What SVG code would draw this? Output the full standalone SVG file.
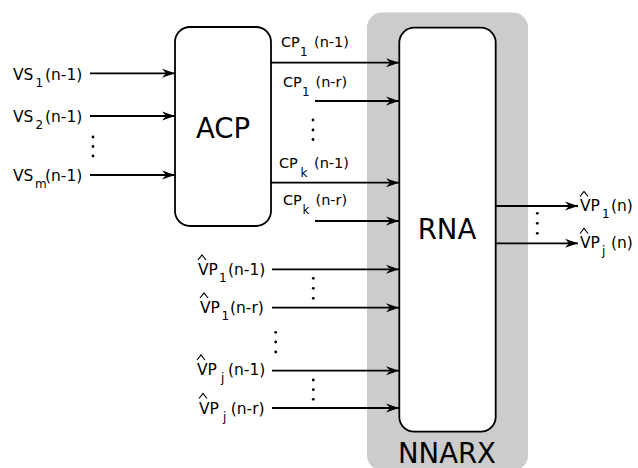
<svg xmlns="http://www.w3.org/2000/svg" width="638" height="468" viewBox="0 0 638 468">
<style>
.box{fill:#fff;stroke:#000;stroke-width:1.8}
.bg{fill:#cccccc}
.c{stroke:#000;stroke-width:1.8;fill:none;marker-end:url(#ah)}
text{font-family:"DejaVu Sans",sans-serif;fill:#000}
.lbl{font-size:15.5px}
.cp{font-size:14.5px}
.s{font-size:12px}
.big{font-size:27.5px;text-anchor:middle}
.hat{stroke:#000;stroke-width:1.2;fill:none}
.dot{fill:#000}
</style>
<defs>
<marker id="ah" markerUnits="userSpaceOnUse" markerWidth="16" markerHeight="10" viewBox="-14 -5 16 10" refX="0" refY="0" orient="auto">
<path d="M0,0 L-13,-4.5 L-9,0 L-13,4.5 Z" fill="#000"/>
</marker>
</defs>
<g id="NNARX">
<rect class="bg" x="367" y="12.5" width="161" height="458" rx="15"/>
<text class="big" x="447" y="463">NNARX</text>
</g>
<g id="ACP">
<rect class="box" x="175" y="27" width="96" height="199" rx="15"/>
<text class="big" x="223" y="137.5">ACP</text>
</g>
<g id="RNA">
<rect class="box" x="399.3" y="27.7" width="96.4" height="404" rx="15"/>
<text class="big" x="447" y="239">RNA</text>
</g>
<g id="connectors">
<line class="c" x1="90" y1="73.3" x2="175" y2="73.3"/>
<line class="c" x1="90" y1="116" x2="175" y2="116"/>
<line class="c" x1="90" y1="175" x2="175" y2="175"/>
<line class="c" x1="271" y1="62.7" x2="399" y2="62.7"/>
<line class="c" x1="315" y1="101" x2="399" y2="101"/>
<line class="c" x1="271" y1="182.7" x2="399" y2="182.7"/>
<line class="c" x1="315" y1="221" x2="399" y2="221"/>
<line class="c" x1="272" y1="269.3" x2="399" y2="269.3"/>
<line class="c" x1="272" y1="307.7" x2="399" y2="307.7"/>
<line class="c" x1="272" y1="370.7" x2="399" y2="370.7"/>
<line class="c" x1="272" y1="408" x2="399" y2="408"/>
<line class="c" x1="496" y1="206" x2="578" y2="206"/>
<line class="c" x1="496" y1="243.3" x2="578" y2="243.3"/>
</g>
<g id="dots">
<circle class="dot" cx="93" cy="137" r="1.4"/><circle class="dot" cx="93" cy="146.5" r="1.4"/><circle class="dot" cx="93" cy="156" r="1.4"/>
<circle class="dot" cx="313" cy="120" r="1.4"/><circle class="dot" cx="313" cy="130" r="1.4"/><circle class="dot" cx="313" cy="139.5" r="1.4"/>
<circle class="dot" cx="313.3" cy="278.3" r="1.4"/><circle class="dot" cx="313.3" cy="288.3" r="1.4"/><circle class="dot" cx="313.3" cy="298.3" r="1.4"/>
<circle class="dot" cx="275.7" cy="332.3" r="1.4"/><circle class="dot" cx="275.7" cy="342" r="1.4"/><circle class="dot" cx="275.7" cy="352" r="1.4"/>
<circle class="dot" cx="313.3" cy="380" r="1.4"/><circle class="dot" cx="313.3" cy="389.7" r="1.4"/><circle class="dot" cx="313.3" cy="399.3" r="1.4"/>
<circle class="dot" cx="537.3" cy="213.3" r="1.4"/><circle class="dot" cx="537.3" cy="223.3" r="1.4"/><circle class="dot" cx="537.3" cy="233.3" r="1.4"/>
</g>
<g id="labels">
<text class="lbl" x="13" y="79.5">VS<tspan class="s" x="35.5" y="86.5">1</tspan><tspan x="45" y="79.5">(n-1)</tspan></text>
<text class="lbl" x="13" y="122">VS<tspan class="s" x="35.5" y="129">2</tspan><tspan x="45" y="122">(n-1)</tspan></text>
<text class="lbl" x="13" y="181">VS<tspan class="s" x="35" y="188">m</tspan><tspan x="45" y="181">(n-1)</tspan></text>

<text class="cp" x="281" y="46.7">CP<tspan class="s" x="300" y="55.5">1</tspan><tspan x="314" y="46.7">(n-1)</tspan></text>
<text class="cp" x="283" y="86.7">CP<tspan class="s" x="302" y="95.5">1</tspan><tspan x="315.5" y="86.7">(n-r)</tspan></text>
<text class="cp" x="279" y="167.7">CP<tspan class="s" x="300.5" y="176.5">k</tspan><tspan x="314" y="167.7">(n-1)</tspan></text>
<text class="cp" x="283" y="205">CP<tspan class="s" x="302.5" y="213.8">k</tspan><tspan x="315.5" y="205">(n-r)</tspan></text>

<path class="hat" d="M198,260 L202,255 L206,260"/>
<text class="lbl" x="198" y="275">VP<tspan class="s" x="219" y="282">1</tspan><tspan x="228" y="275">(n-1)</tspan></text>
<path class="hat" d="M200,298 L204,293 L208,298"/>
<text class="lbl" x="200" y="313">VP<tspan class="s" x="221.5" y="320">1</tspan><tspan x="230" y="313">(n-r)</tspan></text>
<path class="hat" d="M197,360 L201,355 L205,360"/>
<text class="lbl" x="197" y="375">VP<tspan class="s" x="221" y="382">j</tspan><tspan x="228" y="375">(n-1)</tspan></text>
<path class="hat" d="M199,398.5 L203,393.5 L207,398.5"/>
<text class="lbl" x="199" y="413.5">VP<tspan class="s" x="223" y="420.5">j</tspan><tspan x="230.7" y="413.5">(n-r)</tspan></text>

<path class="hat" d="M580,196.5 L584,191.5 L588,196.5"/>
<text class="lbl" x="580" y="210.5">VP<tspan class="s" x="602" y="217.5">1</tspan><tspan x="611" y="210.5">(n)</tspan></text>
<path class="hat" d="M580,233.5 L584,228.5 L588,233.5"/>
<text class="lbl" x="580" y="247.5">VP<tspan class="s" x="602" y="254.5">j</tspan><tspan x="611" y="247.5">(n)</tspan></text>
</g>
</svg>
